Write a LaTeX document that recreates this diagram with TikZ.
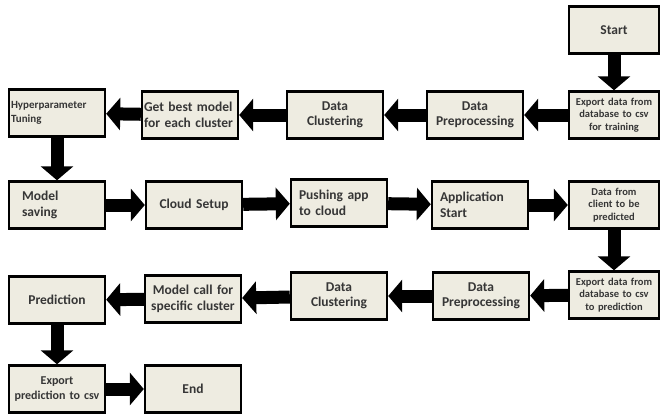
\documentclass[tikz,border=0pt]{standalone}
\usepackage{fontspec}
\setmainfont{Carlito}
\usepackage{tikz}
\usepackage{xcolor}
\usetikzlibrary{
    arrows.meta,
    positioning
}
\definecolor{boxfill}{HTML}{EEECE1}
\definecolor{boxtext}{HTML}{363636}

\begin{document}
\begin{tikzpicture}[x=1pt, y=-1pt,
    stage/.style={draw, line width=2.4pt, fill=boxfill, text=boxtext,
        minimum width=96pt, minimum height=47pt, inner sep=2pt,
        text width=92pt, align=center, font=\bfseries\fontsize{13.5}{15.5}\selectfont},
    small/.style={font=\bfseries\fontsize{10.5}{12.5}\selectfont},
    mid/.style={font=\bfseries\fontsize{12}{15}\selectfont},
    edge/.style={minimum width=90pt, text width=86pt},
    blk/.style={line width=13pt, -{Triangle[length=14pt,width=32pt]}}]
                        \useasboundingbox (0, 0) rectangle (663, 416);
                        \node[stage, edge] (st) at (614, 30) {Start};
                        \node[stage, edge, small] (ex1) at (614, 115) {Export data from\\database to csv\\for training};
                        \node[stage] (pp1) at (475, 115) {Data\\Preprocessing};
                        \node[stage] (cl1) at (335, 115) {Data\\Clustering};
                        \node[stage, align=left] (gb) at (190, 115) {Get best model\\for each cluster};
                        \node[stage, align=left, font=\bfseries\fontsize{11}{14}\selectfont] (hp) at (57, 113) {Hyperparameter\\Tuning};
                        \node[stage, align=left, text width=70pt] (ms) at (57, 205) {Model\\saving};
                        \node[stage] (cs) at (194, 205) {Cloud Setup};
                        \node[stage, align=left, text width=80pt] (pa) at (339, 203) {Pushing app\\to cloud};
                        \node[stage, align=left, text width=80pt] (as) at (480, 205) {Application\\Start};
                        \node[stage, edge, small] (dc) at (614, 205) {Data from\\client to be\\predicted};
                        \node[stage, edge, small] (ex2) at (614, 295) {Export data from\\database to csv\\to prediction};
                        \node[stage] (pp2) at (481, 296) {Data\\Preprocessing};
                        \node[stage] (cl2) at (339, 296) {Data\\Clustering};
                        \node[stage] (mc) at (193, 299) {Model call for\\specific cluster};
                        \node[stage] (pr) at (57, 300) {Prediction};
                        \node[stage, mid] (ep) at (57, 389) {Export\\prediction to csv};
                        \node[stage] (en) at (193, 389) {End};
                        \draw
                        (st) edge[blk] (ex1)
                        (ex1) edge[blk] (pp1)
                        (pp1) edge[blk] (cl1)
                        (cl1) edge[blk] (gb)
                        (gb) edge[blk] (hp)
                        (hp) edge[blk] (ms)
                        (ms) edge[blk] (cs)
                        (cs) edge[blk] (pa)
                        (pa) edge[blk] (as)
                        (as) edge[blk] (dc)
                        (dc) edge[blk] (ex2)
                        (ex2) edge[blk] (pp2)
                        (pp2) edge[blk] (cl2)
                        (cl2) edge[blk] (mc)
                        (mc) edge[blk] (pr)
                        (pr) edge[blk] (ep)
                        (ep) edge[blk] (en);
                    \end{tikzpicture}
\end{document}
